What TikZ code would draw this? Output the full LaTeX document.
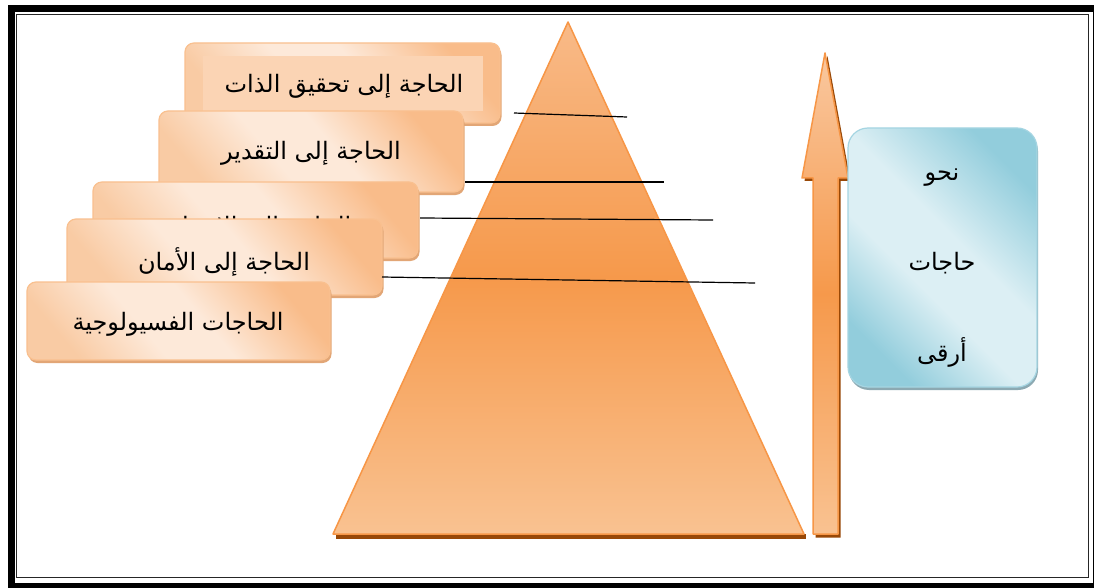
\documentclass[tikz,border=0pt]{standalone}
\usepackage{fontspec}
\newfontfamily\arabicfont[Script=Arabic]{DejaVu Sans}
\TeXXeTstate=1
\usetikzlibrary{shadows}
\definecolor{orlight}{HTML}{FDE9D9}
\definecolor{ormid}{HTML}{F9CBA4}
\definecolor{ordark}{HTML}{F9BC8A}
\definecolor{oredge}{HTML}{F9C08F}
\definecolor{orshadow}{HTML}{E2A676}
\definecolor{tritop}{HTML}{F8BA88}
\definecolor{trimid}{HTML}{F6994B}
\definecolor{tribot}{HTML}{F9C291}
\definecolor{triedge}{HTML}{F79646}
\definecolor{brownshadow}{HTML}{984807}
\definecolor{bluelight}{HTML}{DCEFF4}
\definecolor{bluedark}{HTML}{92CDDC}
\definecolor{blueedge}{HTML}{A5D5E2}
\definecolor{blueshadow}{HTML}{8CA9B2}
\definecolor{innerfill}{HTML}{FBD4B4}
\pgfdeclareverticalshading{boxshade}{100bp}{color(0bp)=(ormid); color(25bp)=(ormid); color(42bp)=(orlight); color(55bp)=(orlight); color(75bp)=(ordark); color(100bp)=(ordark)}
\pgfdeclareverticalshading{blueshade}{100bp}{color(0bp)=(bluedark); color(25bp)=(bluedark); color(42bp)=(bluelight); color(55bp)=(bluelight); color(75bp)=(bluedark); color(100bp)=(bluedark)}
\tikzset{
  needbox/.style={rounded corners=9pt, draw=oredge, line width=1.2pt,
    shading=boxshade, shading angle=-50,
    drop shadow={shadow xshift=1.5pt, shadow yshift=-3pt, fill=orshadow, opacity=1},
    inner sep=0pt},
  bluebox/.style={rounded corners=20pt, draw=blueedge, line width=1.2pt,
    shading=blueshade, shading angle=-45,
    drop shadow={shadow xshift=1pt, shadow yshift=-3pt, fill=blueshadow, opacity=1},
    inner sep=0pt},
  artext/.style={font=\arabicfont\fontsize{24}{28}\selectfont, text=black, inner sep=0pt},
  level/.style={draw=black, line width=1.2pt}
}
\begin{document}
\begin{tikzpicture}[x=1pt,y=-1pt]
\useasboundingbox (0,0) rectangle (1094,588);
\fill[white] (0,0) rectangle (1094,588);
% border
\draw[line width=7pt] (11,8.5) rectangle (1096,586);
\draw[line width=1.6pt, draw=black!85] (16.5,14.5) rectangle (1088.5,577.5);

% pyramid
\fill[brownshadow] (336,534) rectangle (806,538.5);
\shade[top color=tritop, bottom color=tribot, middle color=trimid]
  (568,22) -- (804,534) -- (333,534) -- cycle;
\draw[triedge, line width=1.5pt, line join=round] (568,22) -- (804,534) -- (333,534) -- cycle;

% arrow
\fill[brownshadow] (827.5,56) -- (850.5,181) -- (840.5,181) -- (840.5,537.5) -- (815.5,537.5) -- (815.5,181) -- (804.5,181) -- cycle;
\shade[top color=tritop!80!white, bottom color=tribot, middle color=trimid]
  (825,53) -- (848,178) -- (838,178) -- (838,534) -- (813,534) -- (813,178) -- (802,178) -- cycle;
\draw[triedge, line width=1.5pt, line join=round]
  (825,53) -- (848,178) -- (838,178) -- (838,534) -- (813,534) -- (813,178) -- (802,178) -- cycle;

% blue box
\node[bluebox, minimum width=189pt, minimum height=259pt] (bx) at (942.5,257.5) {};
\node[artext] (t1) at (942,178) {\beginR نحو\endR};
\node[artext] (t2) at (942,263) {\beginR حاجات\endR};
\node[artext] (t3) at (942,352) {\beginR أرقى\endR};

% need boxes
\node[needbox, minimum width=315pt, minimum height=80pt] (n1) at (342.5,83) {};
\node[fill=innerfill, inner sep=0pt, minimum width=280pt, minimum height=55pt] (n1in) at (343,83.5) {};
\node[artext] (n1t) at (344,86) {\beginR الحاجة إلى تحقيق الذات\endR};

\node[needbox, minimum width=304pt, minimum height=81pt] (n2) at (311,151.5) {};
\node[artext] (n2t) at (311,153) {\beginR الحاجة إلى التقدير\endR};

\node[needbox, minimum width=325pt, minimum height=76pt] (n3) at (255.5,220) {};
\node[artext] (n3t) at (261,228) {\beginR الحاجة إلى الانتماء\endR};

\node[needbox, minimum width=315pt, minimum height=76pt] (n4) at (224.5,257) {};
\node[artext] (n4t) at (224,262) {\beginR الحاجة إلى الأمان\endR};

\node[needbox, minimum width=303pt, minimum height=78pt] (n5) at (178.5,321) {};
\node[artext] (n5t) at (178,324) {\beginR الحاجات الفسيولوجية\endR};

% level lines
\coordinate (l1a) at (514,113); \coordinate (l1b) at (627,117);
\coordinate (l2a) at (465,182); \coordinate (l2b) at (664,182);
\coordinate (l3a) at (420,218); \coordinate (l3b) at (713,220);
\coordinate (l4a) at (382,277); \coordinate (l4b) at (755,283);
\draw[level] (l1a) -- (l1b);
\draw[level] (l2a) -- (l2b);
\draw[level] (l3a) -- (l3b);
\draw[level] (l4a) -- (l4b);
\end{tikzpicture}
\end{document}
